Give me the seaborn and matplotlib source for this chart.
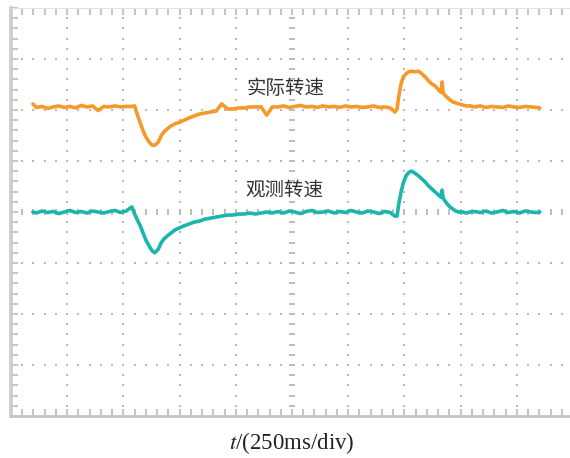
import matplotlib
matplotlib.use("Agg")
import matplotlib.pyplot as plt
from matplotlib.ticker import MultipleLocator
import pandas as pd
import seaborn as sns

# Sample times in screen divisions (250 ms per division)
t_div = [
    0.39, 0.45, 0.55, 0.65, 0.75, 0.85, 0.95, 1.05, 1.15, 1.25, 1.35, 1.45, 1.55, 1.65, 1.75, 1.85, 1.95, 2.05, 2.15,
    2.20, 2.25, 2.30, 2.35, 2.40, 2.46, 2.51, 2.56, 2.62, 2.67, 2.72, 2.78, 2.85, 2.92, 3.00, 3.08,
    3.16, 3.25, 3.35, 3.45, 3.55, 3.65, 3.75, 3.85, 3.95, 4.05, 4.15, 4.25, 4.35, 4.45, 4.55, 4.65,
    4.75, 4.85, 4.95, 5.05, 5.15, 5.25, 5.35, 5.45, 5.55, 5.65, 5.75, 5.85, 5.95, 6.05, 6.15, 6.25,
    6.35, 6.45, 6.55, 6.65, 6.75, 6.83,
    6.87, 6.90, 6.94, 6.98, 7.03, 7.08, 7.13, 7.19, 7.25, 7.31, 7.37, 7.43, 7.49, 7.55, 7.61, 7.65,
    7.67, 7.69, 7.72, 7.76, 7.81, 7.86, 7.91, 7.97, 8.03, 8.10, 8.17,
    8.25, 8.35, 8.45, 8.55, 8.65, 8.75, 8.85, 8.95, 9.05, 9.15, 9.25, 9.35, 9.41,
]

# Actual speed trace (vertical divisions)
actual_speed = [
    6.12, 6.05, 6.07, 6.03, 6.06, 6.08, 6.05, 6.07, 6.04, 6.09, 6.06, 6.08, 5.99, 6.07, 6.06, 6.08, 6.06, 6.07, 6.07,
    6.08, 5.90, 5.75, 5.59, 5.47, 5.37, 5.31, 5.31, 5.37, 5.49, 5.57, 5.63, 5.69, 5.73, 5.76, 5.80,
    5.84, 5.88, 5.92, 5.94, 5.96, 5.98, 6.12, 6.02, 6.02, 6.04, 6.04, 6.06, 6.06, 6.06, 5.90, 6.06,
    6.06, 6.08, 6.05, 6.07, 6.09, 6.06, 6.07, 6.05, 6.08, 6.06, 6.07, 6.05, 6.08, 6.06, 6.07, 6.05,
    6.06, 6.08, 6.05, 6.06, 6.04, 5.96,
    6.02, 6.27, 6.51, 6.65, 6.71, 6.75, 6.76, 6.75, 6.76, 6.71, 6.65, 6.57, 6.51, 6.47, 6.39, 6.35,
    6.55, 6.33, 6.29, 6.25, 6.20, 6.16, 6.14, 6.12, 6.10, 6.08, 6.08,
    6.06, 6.08, 6.05, 6.07, 6.06, 6.05, 6.08, 6.06, 6.05, 6.07, 6.06, 6.05, 6.04,
]

# Observed speed trace (vertical divisions)
observed_speed = [
    4.00, 3.98, 4.02, 3.99, 4.01, 3.97, 4.00, 4.03, 3.99, 4.01, 3.98, 4.02, 4.00, 3.98, 4.01, 4.03, 3.99, 4.02, 4.10,
    3.96, 3.84, 3.73, 3.59, 3.45, 3.33, 3.24, 3.20, 3.27, 3.39, 3.47, 3.53, 3.59, 3.65, 3.69, 3.73,
    3.76, 3.80, 3.82, 3.86, 3.88, 3.90, 3.92, 3.94, 3.94, 3.96, 3.96, 3.98, 3.96, 3.98, 4.00, 3.98,
    4.01, 3.98, 4.02, 4.00, 3.97, 4.01, 4.03, 3.99, 4.00, 4.02, 3.98, 4.01, 3.99, 4.03, 4.00, 3.98,
    4.02, 4.00, 3.97, 4.01, 3.99, 3.92,
    3.92, 4.16, 4.39, 4.57, 4.71, 4.78, 4.80, 4.76, 4.71, 4.65, 4.59, 4.51, 4.45, 4.39, 4.33, 4.29,
    4.43, 4.27, 4.22, 4.16, 4.10, 4.06, 4.02, 4.00, 4.00, 3.98, 4.00,
    4.01, 3.99, 4.02, 3.98, 4.00, 4.03, 3.99, 4.01, 3.98, 4.02, 4.00, 3.99, 4.00,
]

series_names = ["实际转速", "观测转速"]
series_colors = ["#f5992c", "#1cb5ab"]
x_label = "$t$/(250ms/div)"

sns.set_theme(style="white")
plt.rcParams["font.family"] = ["Noto Sans CJK SC", "DejaVu Sans"]
plt.rcParams["mathtext.fontset"] = "stix"

df = pd.concat([
    pd.DataFrame({"t": t_div, "v": actual_speed, "trace": series_names[0]}),
    pd.DataFrame({"t": t_div, "v": observed_speed, "trace": series_names[1]}),
], ignore_index=True)

fig = plt.figure(figsize=(5.70, 4.58), dpi=100)
ax = fig.add_axes([11 / 570, 42 / 458, 562 / 570, 408 / 458])
ax.set_xlim(0, 10)
ax.set_ylim(0, 8)

# Oscilloscope graticule: dotted division lines, dashed centre cross
grid_col = "#b9b9b9"
minor_x = [j * 0.2 for j in range(1, 50)]
minor_y = [j * 0.2 for j in range(1, 40)]
for k in range(1, 10):
    if k == 5:
        ax.plot([5] * len(minor_y), minor_y, ls="none", marker="_", ms=5, mew=1.3, color=grid_col, zorder=1)
    else:
        ax.plot([k] * len(minor_y), minor_y, ls="none", marker="s", ms=1.7, mew=0, color=grid_col, zorder=1)
for k in range(1, 8):
    if k == 4:
        ax.plot(minor_x, [4] * len(minor_x), ls="none", marker="|", ms=5, mew=1.3, color=grid_col, zorder=1)
    else:
        ax.plot(minor_x, [k] * len(minor_x), ls="none", marker="s", ms=1.7, mew=0, color=grid_col, zorder=1)

sns.lineplot(data=df, x="t", y="v", hue="trace", hue_order=series_names,
             palette=series_colors, estimator=None, sort=False,
             linewidth=2.6, legend=False, ax=ax, zorder=3)

ax.text(4.88, 6.43, series_names[0], ha="center", va="center", fontsize=14, color="#333333", zorder=4)
ax.text(4.86, 4.42, series_names[1], ha="center", va="center", fontsize=14, color="#333333", zorder=4)

ax.xaxis.set_major_locator(MultipleLocator(1))
ax.xaxis.set_minor_locator(MultipleLocator(0.2))
ax.yaxis.set_major_locator(MultipleLocator(1))
ax.yaxis.set_minor_locator(MultipleLocator(0.2))
ax.tick_params(which="both", direction="in", length=5, width=1.5, colors="#c6c6c6",
               bottom=True, left=True, top=True, right=False,
               labelbottom=False, labelleft=False)
ax.set_xlabel("")
ax.set_ylabel("")

ax.spines["left"].set_color("#cccccc")
ax.spines["left"].set_linewidth(2.6)
ax.spines["bottom"].set_color("#c4c4c4")
ax.spines["bottom"].set_linewidth(2.0)
ax.spines["top"].set_color("#e2e2e2")
ax.spines["top"].set_linewidth(0.8)
ax.spines["right"].set_visible(False)

fig.text(292 / 570, 1 - 443 / 458, x_label, ha="center", va="center",
         fontsize=16.5, family="Liberation Serif", color="#222222")

fig.savefig("out.png", dpi=100)
